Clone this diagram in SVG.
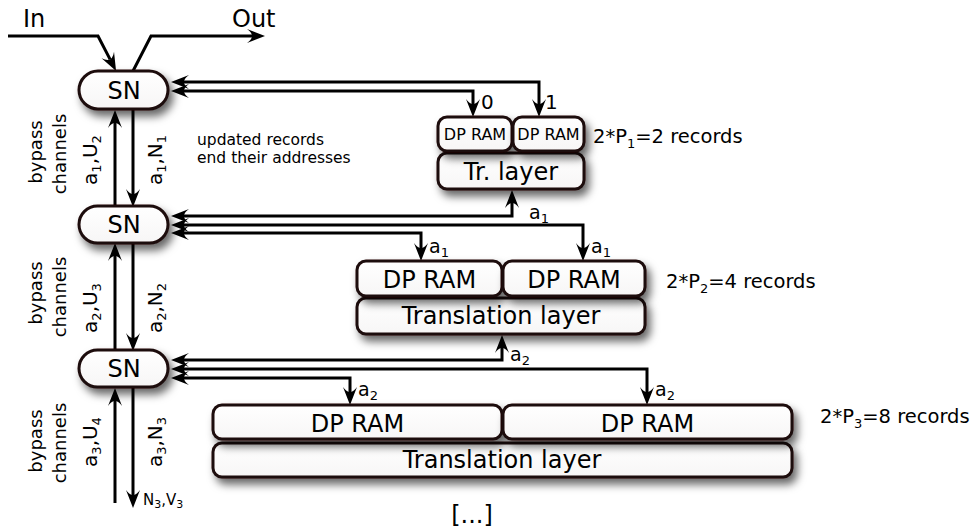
<svg xmlns="http://www.w3.org/2000/svg" width="975" height="531" viewBox="0 0 975 531">
<style>
text{font-family:"DejaVu Sans","Liberation Sans",sans-serif;fill:#000}
.box{fill:url(#gf);stroke:#1f0b0b;stroke-width:3;filter:url(#sh)}
.ln{fill:none;stroke:#000;stroke-width:3}
.big{font-size:24px;text-anchor:middle}
.lab{font-size:19px}
.rot{font-size:20px;text-anchor:middle}
.byp{font-size:18px;text-anchor:middle}
</style>
<defs>
<linearGradient id="gf" x1="0" y1="0" x2="0" y2="1"><stop offset="0" stop-color="#ffffff"/><stop offset="1" stop-color="#f7f6f6"/></linearGradient>
<filter id="sh" x="-20%" y="-30%" width="150%" height="190%"><feDropShadow dx="4" dy="6" stdDeviation="4" flood-color="#000" flood-opacity="0.6"/></filter>
<marker id="ah" markerUnits="userSpaceOnUse" markerWidth="20" markerHeight="16" viewBox="0 -8 20 16" refX="5" refY="0" orient="auto-start-reverse"><path d="M0,-7 Q10,0 0,7 L18,0 Z" fill="#000"/></marker>
</defs>

<g id="connectors">
<path class="ln" d="M8,36 L98,36 L110.1,59.4" marker-end="url(#ah)"/>
<path class="ln" d="M133,71 L151,36 L252,36" marker-end="url(#ah)"/>
<path class="ln" d="M115,207 L115,123" marker-end="url(#ah)"/>
<path class="ln" d="M133,109 L133,194" marker-end="url(#ah)"/>
<path class="ln" d="M115,351 L115,256" marker-end="url(#ah)"/>
<path class="ln" d="M133,243 L133,338" marker-end="url(#ah)"/>
<path class="ln" d="M115,503 L115,401" marker-end="url(#ah)"/>
<path class="ln" d="M133,387 L133,495" marker-end="url(#ah)"/>
<path class="ln" d="M184,82 L539,82 L539,104" marker-start="url(#ah)" marker-end="url(#ah)"/>
<path class="ln" d="M184,91 L473,91 L473,104" marker-start="url(#ah)" marker-end="url(#ah)"/>
<path class="ln" d="M184,216 L512,216 L512,203" marker-start="url(#ah)" marker-end="url(#ah)"/>
<path class="ln" d="M184,225 L583,225 L583,248" marker-start="url(#ah)" marker-end="url(#ah)"/>
<path class="ln" d="M184,233 L421,233 L421,248" marker-start="url(#ah)" marker-end="url(#ah)"/>
<path class="ln" d="M184,360 L502,360 L502,348" marker-start="url(#ah)" marker-end="url(#ah)"/>
<path class="ln" d="M184,369 L647,369 L647,392" marker-start="url(#ah)" marker-end="url(#ah)"/>
<path class="ln" d="M184,378 L350,378 L350,392" marker-start="url(#ah)" marker-end="url(#ah)"/>
</g>

<g id="sn1"><rect class="box" x="79" y="71" width="89" height="38" rx="19"/><text class="big" x="124" y="99">SN</text></g>
<g id="sn2"><rect class="box" x="79" y="206" width="89" height="37" rx="18.5"/><text class="big" x="124" y="233">SN</text></g>
<g id="sn3"><rect class="box" x="79" y="350" width="89" height="37" rx="18.5"/><text class="big" x="124" y="377">SN</text></g>

<g id="row1">
<rect class="box" x="438" y="153" width="146" height="36" rx="9"/>
<rect class="box" x="438" y="117" width="74" height="34" rx="9"/>
<rect class="box" x="513" y="117" width="71" height="34" rx="9"/>
<text x="475" y="140" style="font-size:16px;text-anchor:middle">DP RAM</text>
<text x="548.5" y="140" style="font-size:16px;text-anchor:middle">DP RAM</text>
<text class="big" x="511" y="180">Tr. layer</text>
</g>
<g id="row2">
<rect class="box" x="357" y="298" width="288" height="36" rx="9"/>
<rect class="box" x="357" y="261" width="145" height="35" rx="9"/>
<rect class="box" x="503" y="261" width="142" height="35" rx="9"/>
<text class="big" x="429.5" y="288">DP RAM</text>
<text class="big" x="574" y="288">DP RAM</text>
<text class="big" x="501" y="324">Translation layer</text>
</g>
<g id="row3">
<rect class="box" x="213" y="443" width="579" height="34" rx="9"/>
<rect class="box" x="213" y="405" width="289" height="34" rx="9"/>
<rect class="box" x="503" y="405" width="289" height="34" rx="9"/>
<text class="big" x="357.5" y="432">DP RAM</text>
<text class="big" x="647.5" y="432">DP RAM</text>
<text class="big" x="502" y="468">Translation layer</text>
</g>

<g id="labels">
<text x="23" y="27" style="font-size:24px">In</text>
<text x="232" y="27" style="font-size:24px">Out</text>
<text x="197" y="145" style="font-size:15.5px">updated records</text>
<text x="197" y="163" style="font-size:15.5px">end their addresses</text>

<text x="481" y="109" style="font-size:20px">0</text>
<text x="545" y="109" style="font-size:20px">1</text>
<text class="lab" x="529" y="219">a<tspan font-size="13" dy="4">1</tspan></text>
<text class="lab" x="429" y="253">a<tspan font-size="13" dy="4">1</tspan></text>
<text class="lab" x="591" y="253">a<tspan font-size="13" dy="4">1</tspan></text>
<text class="lab" x="510" y="361">a<tspan font-size="13" dy="4">2</tspan></text>
<text class="lab" x="358" y="396">a<tspan font-size="13" dy="4">2</tspan></text>
<text class="lab" x="655" y="396">a<tspan font-size="13" dy="4">2</tspan></text>
<text x="143" y="505" style="font-size:15px">N<tspan font-size="11" dy="3">3</tspan><tspan dy="-3">,V</tspan><tspan font-size="11" dy="3">3</tspan></text>

<text x="593" y="143" style="font-size:19.5px">2*P<tspan font-size="13" dy="5">1</tspan><tspan dy="-5">=2 records</tspan></text>
<text x="666" y="288" style="font-size:19.5px">2*P<tspan font-size="13" dy="5">2</tspan><tspan dy="-5">=4 records</tspan></text>
<text x="820" y="423" style="font-size:19.5px">2*P<tspan font-size="13" dy="5">3</tspan><tspan dy="-5">=8 records</tspan></text>

<text class="rot" transform="translate(97,160) rotate(-90)">a<tspan font-size="13" dy="4">1</tspan><tspan dy="-4">,U</tspan><tspan font-size="13" dy="4">2</tspan></text>
<text class="rot" transform="translate(162,160) rotate(-90)">a<tspan font-size="13" dy="4">1</tspan><tspan dy="-4">,N</tspan><tspan font-size="13" dy="4">1</tspan></text>
<text class="rot" transform="translate(97,308) rotate(-90)">a<tspan font-size="13" dy="4">2</tspan><tspan dy="-4">,U</tspan><tspan font-size="13" dy="4">3</tspan></text>
<text class="rot" transform="translate(162,308) rotate(-90)">a<tspan font-size="13" dy="4">2</tspan><tspan dy="-4">,N</tspan><tspan font-size="13" dy="4">2</tspan></text>
<text class="rot" transform="translate(97,442) rotate(-90)">a<tspan font-size="13" dy="4">3</tspan><tspan dy="-4">,U</tspan><tspan font-size="13" dy="4">4</tspan></text>
<text class="rot" transform="translate(162,442) rotate(-90)">a<tspan font-size="13" dy="4">3</tspan><tspan dy="-4">,N</tspan><tspan font-size="13" dy="4">3</tspan></text>

<text class="byp" transform="translate(42,152) rotate(-90)">bypass</text>
<text class="byp" transform="translate(66,154) rotate(-90)">channels</text>
<text class="byp" transform="translate(42,293) rotate(-90)">bypass</text>
<text class="byp" transform="translate(66,297) rotate(-90)">channels</text>
<text class="byp" transform="translate(42,441) rotate(-90)">bypass</text>
<text class="byp" transform="translate(66,443) rotate(-90)">channels</text>

<text class="big" x="472" y="523">[...]</text>
</g>
</svg>
